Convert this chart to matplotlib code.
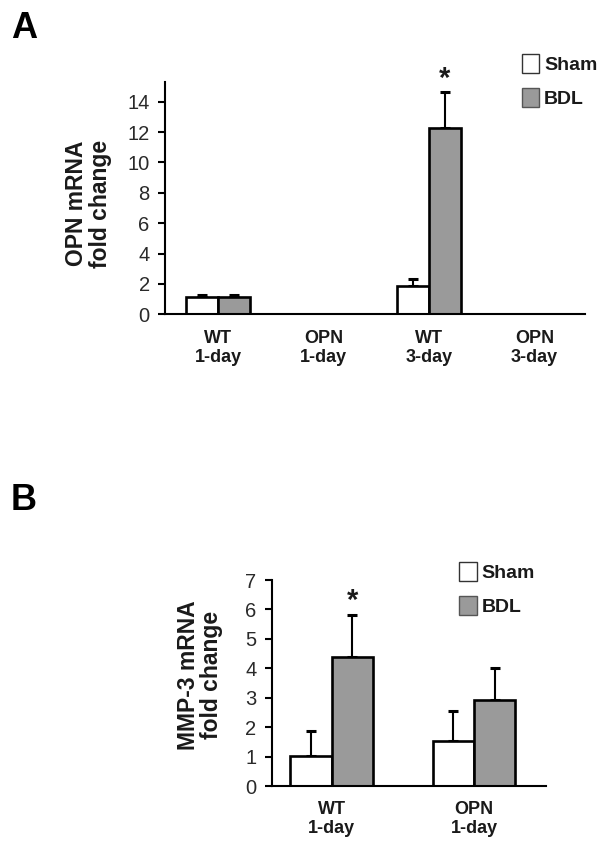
import numpy as np
import matplotlib
matplotlib.use('Agg')
import matplotlib.pyplot as plt
from matplotlib.patches import Patch

plt.rcParams['font.family'] = ['Liberation Sans', 'DejaVu Sans']

# panel A: OPN mRNA
cats_a = ['WT\n1-day', 'OPN\n1-day', 'WT\n3-day', 'OPN\n3-day']
sham_a = [1.12, np.nan, 1.86, np.nan]
sham_a_err = [0.18, np.nan, 0.49, np.nan]
bdl_a = [1.12, np.nan, 12.28, np.nan]
bdl_a_err = [0.18, np.nan, 2.38, np.nan]
star_a = [(2, 15.87)]

# panel B: MMP-3 mRNA
cats_b = ['WT\n1-day', 'OPN\n1-day']
sham_b = [1.02, 1.53]
sham_b_err = [0.86, 1.03]
bdl_b = [4.39, 2.92]
bdl_b_err = [1.42, 1.08]
star_b = [(0, 6.49)]

GRAY = '#9a9a9a'
TXT = '#1a1a1a'
W, H = 602, 856


def draw_panel(ax, cats, sham, sham_err, bdl, bdl_err, stars, width, ylim, yticks, xlim):
    x = np.arange(len(cats))
    sham = np.array(sham, dtype=float)
    bdl = np.array(bdl, dtype=float)
    ax.bar(x - width / 2, sham, width, color='white', edgecolor='black', linewidth=1.9, zorder=2)
    ax.bar(x + width / 2, bdl, width, color=GRAY, edgecolor='black', linewidth=1.9, zorder=2)
    for xs, ys, es in [(x - width / 2, sham, sham_err), (x + width / 2, bdl, bdl_err)]:
        es = np.array(es, dtype=float)
        ax.errorbar(xs, ys, yerr=[np.zeros_like(es), es], fmt='none', ecolor='black',
                    elinewidth=1.5, capsize=3.3, capthick=2.2, zorder=1)
    for cx, cy in stars:
        ax.annotate('*', (cx + width / 2, cy), xytext=(0, -10), textcoords='offset points',
                    ha='center', va='baseline', fontsize=21, fontweight='bold',
                    color=TXT, annotation_clip=False)
    ax.set_xlim(*xlim)
    ax.set_ylim(*ylim)
    ax.set_yticks(yticks)
    ax.set_xticks(x)
    ax.set_xticklabels(cats, fontsize=13, fontweight='bold', color=TXT, linespacing=1.15)
    ax.tick_params(axis='x', length=0, pad=11)
    ax.tick_params(axis='y', length=5, width=1.5, pad=6, labelsize=14.5, labelcolor='#2a2a2a')
    for s in ['top', 'right']:
        ax.spines[s].set_visible(False)
    for s in ['left', 'bottom']:
        ax.spines[s].set_linewidth(1.5)


def add_legend(fig, x_px, y_px):
    handles = [Patch(facecolor='white', edgecolor='#333333', linewidth=1.0, label='Sham'),
               Patch(facecolor=GRAY, edgecolor='#555555', linewidth=1.0, label='BDL')]
    fig.legend(handles=handles, loc='upper left', bbox_to_anchor=(x_px / W, 1 - y_px / H),
               frameon=False, borderpad=0, borderaxespad=0, handlelength=0.9,
               handleheight=1.12, handletextpad=0.25, labelspacing=0.72,
               prop={'size': 14, 'weight': 'bold'}, labelcolor=TXT)


fig = plt.figure(figsize=(W / 100, H / 100), dpi=100)

ax_a = fig.add_axes([165 / W, 1 - 314.3 / H, 420 / W, 232.3 / H])
draw_panel(ax_a, cats_a, sham_a, sham_a_err, bdl_a, bdl_a_err, star_a,
           0.3, (0, 15.3), np.arange(0, 15, 2), (-0.502, 3.479))

ax_b = fig.add_axes([271.7 / W, 1 - 786 / H, 274 / W, 206 / H])
draw_panel(ax_b, cats_b, sham_b, sham_b_err, bdl_b, bdl_b_err, star_b,
           0.29, (0, 7), np.arange(0, 8, 1), (-0.4216, 1.504))

fig.text(88.5 / W, 1 - 203.5 / H, 'OPN mRNA\nfold change', rotation=90, ha='center', va='center',
         fontsize=16.5, fontweight='bold', color=TXT, linespacing=1.05, multialignment='center')
fig.text(200 / W, 1 - 675 / H, 'MMP-3 mRNA\nfold change', rotation=90, ha='center', va='center',
         fontsize=16.5, fontweight='bold', color=TXT, linespacing=1.05, multialignment='center')

add_legend(fig, 521.7, 54)
add_legend(fig, 459.3, 562)

fig.text(24 / W, 1 - 29 / H, 'A', ha='center', va='center', fontsize=26, fontweight='bold')
fig.text(24 / W, 1 - 501 / H, 'B', ha='center', va='center', fontsize=26, fontweight='bold')

fig.savefig('out.png', dpi=100, facecolor='white')
